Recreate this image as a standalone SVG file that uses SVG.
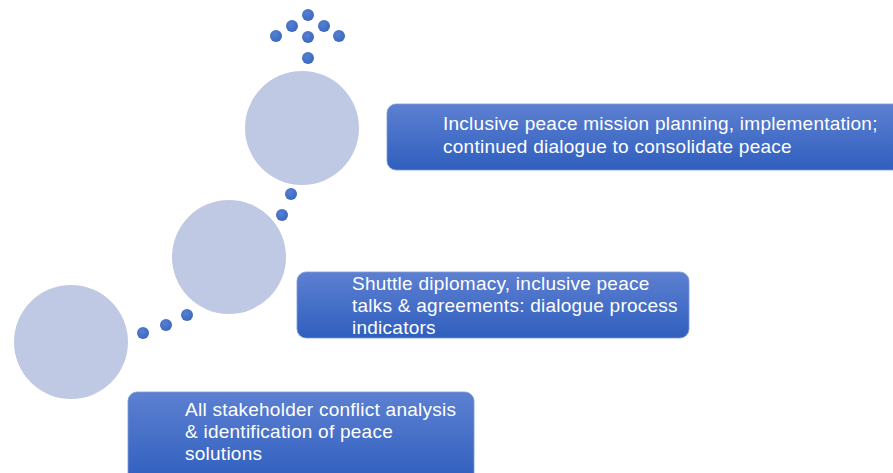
<svg xmlns="http://www.w3.org/2000/svg" width="893" height="473" viewBox="0 0 893 473">
<defs>
<linearGradient id="boxg" x1="0" y1="0" x2="0" y2="1">
<stop offset="0" stop-color="#5d80d1"/>
<stop offset="1" stop-color="#2f5fbe"/>
</linearGradient>
<radialGradient id="dotg" cx="0.4" cy="0.35" r="0.7">
<stop offset="0" stop-color="#5580d2"/>
<stop offset="1" stop-color="#3a66bd"/>
</radialGradient>
<style>
.circ{fill:#c0c9e3}
.box{fill:url(#boxg);stroke:#7f9ad6;stroke-width:0.8}
.dot{fill:url(#dotg)}
.t{font-family:"Liberation Sans",Arial,sans-serif;font-size:19px;letter-spacing:0.25px;fill:#ffffff}
</style>
</defs>
<rect width="893" height="473" fill="#ffffff"/>
<g id="connectors">
<circle class="dot" cx="308" cy="15" r="6"/>
<circle class="dot" cx="292" cy="26" r="6"/>
<circle class="dot" cx="324" cy="26" r="6"/>
<circle class="dot" cx="276" cy="36" r="6"/>
<circle class="dot" cx="308" cy="37" r="6"/>
<circle class="dot" cx="339" cy="36" r="6"/>
<circle class="dot" cx="308" cy="58" r="6"/>
<circle class="dot" cx="291" cy="194" r="6"/>
<circle class="dot" cx="282" cy="215" r="6"/>
<circle class="dot" cx="143" cy="333" r="6"/>
<circle class="dot" cx="166" cy="325" r="6"/>
<circle class="dot" cx="187" cy="315" r="6"/>
</g>
<g id="circle-3"><circle class="circ" cx="302" cy="128" r="57"/></g>
<g id="circle-2"><circle class="circ" cx="229" cy="257" r="57"/></g>
<g id="circle-1"><circle class="circ" cx="71" cy="342" r="57"/></g>
<g id="box-3">
<rect class="box" x="387" y="104" width="520" height="66" rx="9"/>
<text class="t" x="443" y="130">Inclusive peace mission planning, implementation;</text>
<text class="t" x="443" y="153">continued dialogue to consolidate peace</text>
</g>
<g id="box-2">
<rect class="box" x="297" y="272" width="392" height="66" rx="9"/>
<text class="t" x="352" y="290">Shuttle diplomacy, inclusive peace</text>
<text class="t" x="352" y="312">talks &amp; agreements: dialogue process</text>
<text class="t" x="352" y="334">indicators</text>
</g>
<g id="box-1">
<rect class="box" x="128" y="392" width="346" height="90" rx="9"/>
<text class="t" x="185" y="416">All stakeholder conflict analysis</text>
<text class="t" x="185" y="438">&amp; identification of peace</text>
<text class="t" x="185" y="460">solutions</text>
</g>
</svg>
